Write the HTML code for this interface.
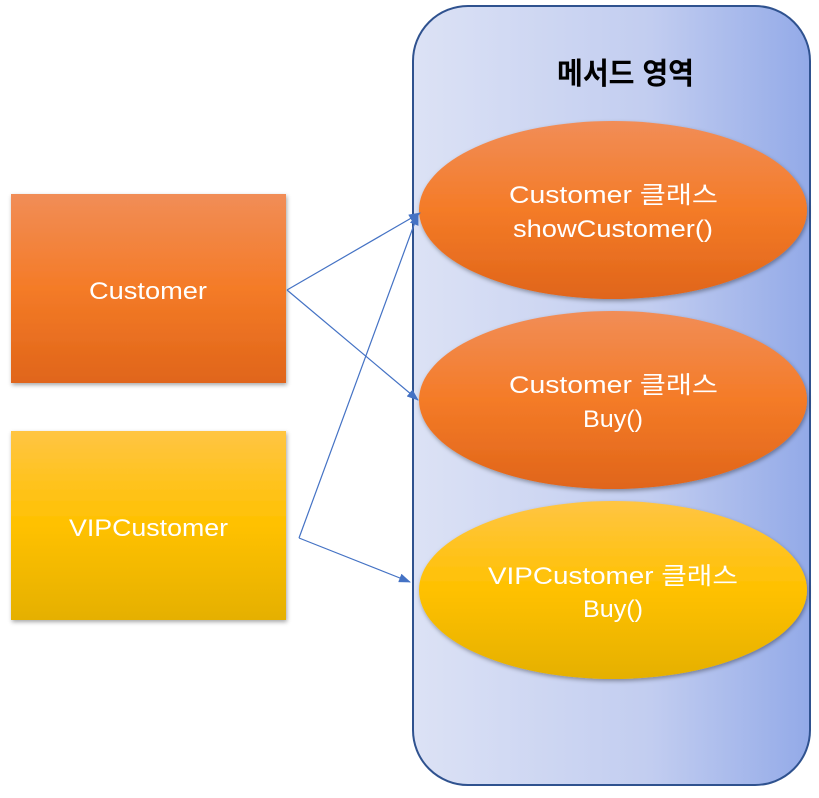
<!DOCTYPE html>
<html><head><meta charset="utf-8"><style>
body{margin:0;background:#fff;width:819px;height:793px;overflow:hidden}
text{font-family:"Liberation Sans","Noto Sans CJK KR",sans-serif}
</style></head><body>
<svg width="819" height="793" xmlns="http://www.w3.org/2000/svg">
<defs>
<linearGradient id="bg" x1="0" x2="1" y1="0" y2="0"><stop offset="0" stop-color="#dce2f5"/><stop offset="0.6" stop-color="#c2cdf0"/><stop offset="1" stop-color="#93aae8"/></linearGradient>
<linearGradient id="or" x1="0" x2="0" y1="0" y2="1"><stop offset="0" stop-color="#f18d57"/><stop offset="0.5" stop-color="#f47b27"/><stop offset="1" stop-color="#e0651a"/></linearGradient>
<linearGradient id="ye" x1="0" x2="0" y1="0" y2="1"><stop offset="0" stop-color="#ffc543"/><stop offset="0.5" stop-color="#ffc100"/><stop offset="1" stop-color="#e5b000"/></linearGradient>
<filter id="sh"><feDropShadow dx="1" dy="2" stdDeviation="2" flood-opacity="0.35"/></filter>
<marker id="ar" markerWidth="12" markerHeight="9" refX="11" refY="4.5" orient="auto" markerUnits="userSpaceOnUse"><path d="M0,0 L12,4.5 L0,9z" fill="#4472c4"/></marker>
</defs>
<rect x="413" y="6" width="397" height="779" rx="55" fill="url(#bg)" stroke="#2f528f" stroke-width="2"/>
<text x="557" y="84" font-size="30" font-weight="bold" fill="#000" textLength="137" lengthAdjust="spacingAndGlyphs">메서드 영역</text>
<rect x="11" y="194" width="275" height="189" fill="url(#or)" filter="url(#sh)"/>
<text x="89" y="299" font-size="24" fill="#fff" textLength="118" lengthAdjust="spacingAndGlyphs">Customer</text>
<rect x="11" y="431" width="275" height="189" fill="url(#ye)" filter="url(#sh)"/>
<text x="69" y="536" font-size="24" fill="#fff" textLength="159" lengthAdjust="spacingAndGlyphs">VIPCustomer</text>
<ellipse cx="613" cy="210" rx="194" ry="89" fill="url(#or)" filter="url(#sh)"/>
<text x="509" y="203" font-size="24" fill="#fff" textLength="209" lengthAdjust="spacingAndGlyphs">Customer 클래스</text>
<text x="513" y="237" font-size="24" fill="#fff" textLength="200" lengthAdjust="spacingAndGlyphs">showCustomer()</text>
<ellipse cx="613" cy="400" rx="194" ry="89" fill="url(#or)" filter="url(#sh)"/>
<text x="509" y="393" font-size="24" fill="#fff" textLength="209" lengthAdjust="spacingAndGlyphs">Customer 클래스</text>
<text x="583" y="427" font-size="24" fill="#fff" textLength="60" lengthAdjust="spacingAndGlyphs">Buy()</text>
<ellipse cx="613" cy="590" rx="194" ry="89" fill="url(#ye)" filter="url(#sh)"/>
<text x="488" y="584" font-size="24" fill="#fff" textLength="250" lengthAdjust="spacingAndGlyphs">VIPCustomer 클래스</text>
<text x="583" y="617" font-size="24" fill="#fff" textLength="60" lengthAdjust="spacingAndGlyphs">Buy()</text>
<g stroke="#4472c4" stroke-width="1.2" fill="none">
<line x1="287" y1="290" x2="420" y2="213" marker-end="url(#ar)"/>
<line x1="287" y1="290" x2="418" y2="400" marker-end="url(#ar)"/>
<line x1="299" y1="538" x2="418" y2="214" marker-end="url(#ar)"/>
<line x1="299" y1="538" x2="410" y2="582" marker-end="url(#ar)"/>
</g>
</svg>
</body></html>
